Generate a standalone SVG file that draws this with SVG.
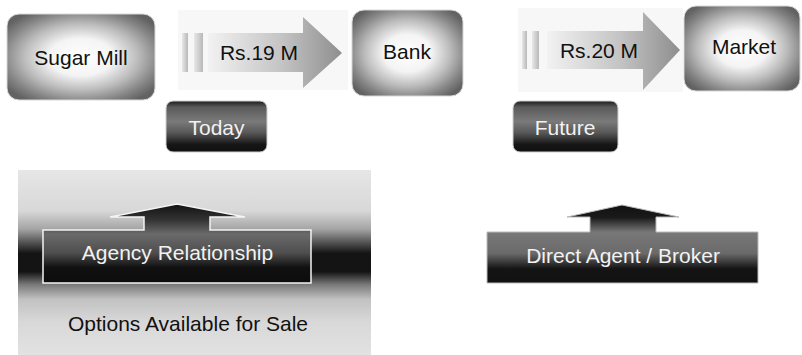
<svg xmlns="http://www.w3.org/2000/svg" width="802" height="355" viewBox="0 0 802 355">
<defs>
<radialGradient id="nodeGrad" cx="0.5" cy="0.5" r="0.62">
<stop offset="0" stop-color="#ffffff"/>
<stop offset="0.35" stop-color="#f4f4f4"/>
<stop offset="0.62" stop-color="#bcbcbc"/>
<stop offset="0.85" stop-color="#838383"/>
<stop offset="1" stop-color="#626262"/>
</radialGradient>
<linearGradient id="arrowGrad" x1="0" y1="0" x2="1" y2="0">
<stop offset="0" stop-color="#f2f2f2"/>
<stop offset="0.55" stop-color="#c4c4c4"/>
<stop offset="1" stop-color="#8e8e8e"/>
</linearGradient>
<linearGradient id="barGrad" x1="0" y1="0" x2="1" y2="0">
<stop offset="0" stop-color="#e8e8e8"/>
<stop offset="1" stop-color="#b8b8b8"/>
</linearGradient>
<linearGradient id="btnGrad" x1="0" y1="0" x2="0" y2="1">
<stop offset="0" stop-color="#1c1c1c"/>
<stop offset="0.12" stop-color="#5a5a5a"/>
<stop offset="0.4" stop-color="#7a7a7a"/>
<stop offset="0.62" stop-color="#585858"/>
<stop offset="0.85" stop-color="#161616"/>
<stop offset="1" stop-color="#101010"/>
</linearGradient>
<linearGradient id="panelGrad" gradientUnits="userSpaceOnUse" x1="0" y1="170" x2="0" y2="355">
<stop offset="0" stop-color="#e6e6e6"/>
<stop offset="0.22" stop-color="#d8d8d8"/>
<stop offset="0.32" stop-color="#a4a4a4"/>
<stop offset="0.4" stop-color="#4a4a4a"/>
<stop offset="0.45" stop-color="#141414"/>
<stop offset="0.55" stop-color="#141414"/>
<stop offset="0.62" stop-color="#7a7a7a"/>
<stop offset="0.7" stop-color="#c2c2c2"/>
<stop offset="0.82" stop-color="#d8d8d8"/>
<stop offset="1" stop-color="#e2e2e2"/>
</linearGradient>
<linearGradient id="blockL" gradientUnits="userSpaceOnUse" x1="0" y1="204" x2="0" y2="283">
<stop offset="0" stop-color="#111"/>
<stop offset="0.2" stop-color="#333"/>
<stop offset="0.38" stop-color="#6a6a6a"/>
<stop offset="0.62" stop-color="#4e4e4e"/>
<stop offset="0.8" stop-color="#111"/>
<stop offset="1" stop-color="#0c0c0c"/>
</linearGradient>
<linearGradient id="blockR" gradientUnits="userSpaceOnUse" x1="0" y1="205" x2="0" y2="283">
<stop offset="0" stop-color="#111"/>
<stop offset="0.16" stop-color="#1a1a1a"/>
<stop offset="0.35" stop-color="#787878"/>
<stop offset="0.62" stop-color="#6a6a6a"/>
<stop offset="0.82" stop-color="#141414"/>
<stop offset="1" stop-color="#111"/>
</linearGradient>
<style>
.t{font-family:"Liberation Sans",Arial,sans-serif;font-size:21px;text-anchor:middle}
.dk{fill:#111}
.wh{fill:#f2f2f2}
.node{fill:url(#nodeGrad);stroke:#d8d8d8;stroke-width:1}
.btn{fill:url(#btnGrad);stroke:#d0d0d0;stroke-width:1}
.arr{fill:url(#arrowGrad)}
.bar{fill:url(#barGrad)}
.bg{fill:#f7f7f7}
</style>
</defs>
<rect width="802" height="355" fill="#ffffff"/>

<g id="connectors">
<rect class="bg" x="178" y="10" width="170" height="80"/>
<rect x="182" y="33" width="6" height="39" class="bar"/>
<rect x="194" y="33" width="9" height="39" class="bar"/>
<polygon class="arr" points="208,33 303,33 303,17 342,53 303,88 303,72 208,72"/>
<text class="t dk" x="259" y="60">Rs.19 M</text>
<rect class="bg" x="518" y="8" width="165" height="84"/>
<rect x="522" y="31" width="5" height="38" class="bar"/>
<rect x="532" y="31" width="7" height="38" class="bar"/>
<polygon class="arr" points="547,31 643,31 643,12 680,50 643,90 643,69 547,69"/>
<text class="t dk" x="599" y="58">Rs.20 M</text>
</g>

<g id="sugar-mill">
<rect class="node" x="7" y="14" width="148" height="86" rx="12"/>
<text class="t dk" x="81" y="65">Sugar Mill</text>
</g>
<g id="bank">
<rect class="node" x="352" y="10" width="111" height="86" rx="12"/>
<text class="t dk" x="407" y="59">Bank</text>
</g>
<g id="market">
<rect class="node" x="684" y="6" width="116" height="85" rx="12"/>
<text class="t dk" x="744" y="54">Market</text>
</g>
<g id="today">
<rect class="btn" x="166" y="101" width="101" height="51" rx="7"/>
<text class="t wh" x="216.5" y="135">Today</text>
</g>
<g id="future">
<rect class="btn" x="513" y="101" width="105" height="51" rx="7"/>
<text class="t wh" x="565" y="135">Future</text>
</g>

<g id="options-panel">
<rect x="18" y="170" width="353" height="185" fill="url(#panelGrad)"/>
<text class="t dk" x="188" y="331">Options Available for Sale</text>
</g>
<g id="agency-relationship">
<polygon points="177,204 245,217 210,217 210,230 311,230 311,283 43,283 43,230 144,230 144,217 110,217" fill="url(#blockL)" stroke="#f4f4f4" stroke-width="1.5"/>
<text class="t wh" x="177.5" y="260">Agency Relationship</text>
</g>

<g id="direct-agent">
<polygon points="622,205 679,217 656,217 656,232 758,232 758,283 487,283 487,232 590,232 590,217 567,217" fill="url(#blockR)" stroke="#bbbbbb" stroke-width="1"/>
<text class="t wh" x="623" y="263">Direct Agent / Broker</text>
</g>
</svg>
